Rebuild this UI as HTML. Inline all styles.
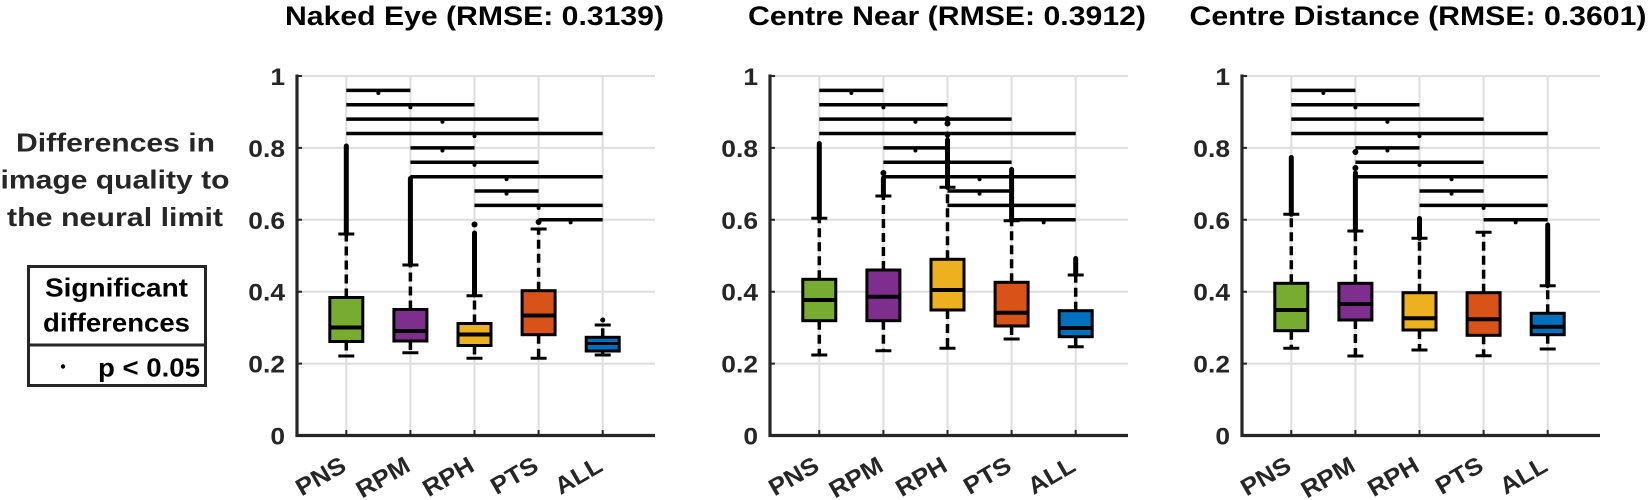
<!DOCTYPE html>
<html>
<head>
<meta charset="utf-8">
<style>
  html,body{margin:0;padding:0;background:#fff;}
  svg{display:block;}
  text{font-family:"Liberation Sans",Arial,sans-serif;font-weight:bold;}
  .g{stroke:#dedede;stroke-width:2;fill:none;}
  .ax{stroke:#262626;stroke-width:3.2;fill:none;}
  .tk{stroke:#262626;stroke-width:2;fill:none;}
  .bar{stroke:#000;stroke-width:3.5;fill:none;}
  .w{stroke:#000;stroke-width:3.5;stroke-dasharray:9 5;fill:none;}
  .c{stroke:#000;stroke-width:3;fill:none;}
  .o{stroke:#000;stroke-width:5;stroke-linecap:round;fill:none;}
  .m{stroke:#000;stroke-width:4;fill:none;}
  .bx{stroke:#000;stroke-width:3;}
  .yt{font-size:24px;fill:#262626;}
  .xt{font-size:24px;fill:#262626;}
  .ti{font-size:27px;fill:#000;}
</style>
</head>
<body>
<svg width="1650" height="500" viewBox="0 0 1650 500" xmlns="http://www.w3.org/2000/svg">
<defs>
  <g id="frame">
    <!-- grid -->
    <path class="g" d="M0,76H358M0,147.9H358M0,219.8H358M0,291.7H358M0,363.6H358"/>
    <path class="g" d="M49.3,76V435M113.4,76V435M177.5,76V435M241.6,76V435M305.7,76V435"/>
    <!-- axes -->
    <path class="ax" d="M0,74.5V435.5H358"/>
    <path class="tk" d="M0,76h5M0,147.9h5M0,219.8h5M0,291.7h5M0,363.6h5"/>
    <path class="tk" d="M49.3,435v-5M113.4,435v-5M177.5,435v-5M241.6,435v-5M305.7,435v-5"/>
    <!-- significance bars -->
    <path class="bar" d="M49.3,90.4H113.4M49.3,104.8H177.5M49.3,119.1H241.6M49.3,133.5H305.7M113.4,147.9H177.5M113.4,162.3H241.6M113.4,176.7H305.7M177.5,191H241.6M177.5,205.4H305.7M241.6,219.8H305.7"/>
    <g fill="#000">
      <circle cx="81.35" cy="93" r="2"/>
      <circle cx="113.4" cy="107.4" r="2"/>
      <circle cx="145.45" cy="121.7" r="2"/>
      <circle cx="177.5" cy="136.1" r="2"/>
      <circle cx="145.45" cy="150.5" r="2"/>
      <circle cx="177.5" cy="164.9" r="2"/>
      <circle cx="209.55" cy="179.3" r="2"/>
      <circle cx="209.55" cy="193.6" r="2"/>
      <circle cx="241.6" cy="208" r="2"/>
      <circle cx="273.65" cy="222.4" r="2"/>
    </g>
    <!-- y tick labels -->
    <g transform="translate(-12,0) scale(1.1,1)">
      <text class="yt" x="0" y="85" text-anchor="end">1</text>
      <text class="yt" x="0" y="156.9" text-anchor="end">0.8</text>
      <text class="yt" x="0" y="228.8" text-anchor="end">0.6</text>
      <text class="yt" x="0" y="300.7" text-anchor="end">0.4</text>
      <text class="yt" x="0" y="372.6" text-anchor="end">0.2</text>
      <text class="yt" x="0" y="444.5" text-anchor="end">0</text>
    </g>
    <!-- x tick labels -->
    <text class="xt" text-anchor="end" transform="translate(50.8,470) rotate(-30) scale(1.08,1)">PNS</text>
    <text class="xt" text-anchor="end" transform="translate(114.9,470) rotate(-30) scale(1.08,1)">RPM</text>
    <text class="xt" text-anchor="end" transform="translate(179,470) rotate(-30) scale(1.08,1)">RPH</text>
    <text class="xt" text-anchor="end" transform="translate(243.1,470) rotate(-30) scale(1.08,1)">PTS</text>
    <text class="xt" text-anchor="end" transform="translate(307.2,470) rotate(-30) scale(1.08,1)">ALL</text>
  </g>
</defs>

<!-- Titles -->
<text class="ti" x="474.5" y="25" text-anchor="middle" textLength="379" lengthAdjust="spacingAndGlyphs">Naked Eye (RMSE: 0.3139)</text>
<text class="ti" x="947" y="25" text-anchor="middle" textLength="398" lengthAdjust="spacingAndGlyphs">Centre Near (RMSE: 0.3912)</text>
<text class="ti" x="1418" y="25" text-anchor="middle" textLength="457" lengthAdjust="spacingAndGlyphs">Centre Distance (RMSE: 0.3601)</text>

<!-- Y label -->
<text x="115.5" y="151.7" text-anchor="middle" font-size="26" fill="#262626" textLength="199" lengthAdjust="spacingAndGlyphs">Differences in</text>
<text x="115" y="188.5" text-anchor="middle" font-size="26" fill="#262626" textLength="229" lengthAdjust="spacingAndGlyphs">image quality to</text>
<text x="115" y="226" text-anchor="middle" font-size="26" fill="#262626" textLength="216" lengthAdjust="spacingAndGlyphs">the neural limit</text>

<!-- Legend -->
<rect x="28.5" y="266.5" width="177" height="119" fill="#fff" stroke="#262626" stroke-width="3"/>
<line x1="28.5" y1="345" x2="205.5" y2="345" stroke="#262626" stroke-width="3"/>
<text x="116.5" y="296.5" text-anchor="middle" font-size="26" fill="#000" textLength="143" lengthAdjust="spacingAndGlyphs">Significant</text>
<text x="116.5" y="331.5" text-anchor="middle" font-size="26" fill="#000" textLength="147" lengthAdjust="spacingAndGlyphs">differences</text>
<circle cx="63" cy="366.5" r="2.2" fill="#000"/>
<text x="98" y="376.5" font-size="26" fill="#000" textLength="102" lengthAdjust="spacingAndGlyphs">p &lt; 0.05</text>

<!-- Panel 1 -->
<g transform="translate(297,0)">
  <use href="#frame"/>
  <!-- PNS -->
  <path class="o" d="M49.3,234V146"/>
  <path class="w" d="M49.3,297.5V234M49.3,341.5V356"/>
  <path class="c" d="M41.3,234h16M41.3,356h16"/>
  <rect class="bx" x="32.8" y="297.5" width="33" height="44" fill="#77ac30"/>
  <path class="m" d="M32.8,327.5h33"/>
  <!-- RPM -->
  <path class="o" d="M113.4,265V178.5"/>
  <path class="w" d="M113.4,309.5V265M113.4,341V352.7"/>
  <path class="c" d="M105.4,265h16M105.4,352.7h16"/>
  <rect class="bx" x="96.9" y="309.5" width="33" height="31.5" fill="#7e2f8e"/>
  <path class="m" d="M96.9,331h33"/>
  <!-- RPH -->
  <path class="o" d="M177.5,295V233"/>
  <circle cx="177.5" cy="224.5" r="3" fill="#000"/>
  <path class="w" d="M177.5,323.5V295.7M177.5,345.5V358.3"/>
  <path class="c" d="M169.5,295.7h16M169.5,358.3h16"/>
  <rect class="bx" x="161" y="323.5" width="33" height="22" fill="#edb120"/>
  <path class="m" d="M161,334.5h33"/>
  <!-- PTS -->
  <circle cx="241.6" cy="222" r="3" fill="#000"/>
  <path class="w" d="M241.6,290.7V229M241.6,334.7V358.3"/>
  <path class="c" d="M233.6,229h16M233.6,358.3h16"/>
  <rect class="bx" x="225.1" y="290.7" width="33" height="44" fill="#d95319"/>
  <path class="m" d="M225.1,315.5h33"/>
  <!-- ALL -->
  <circle cx="305.7" cy="320" r="2.5" fill="#000"/>
  <path class="w" d="M305.7,337.3V325M305.7,351V355"/>
  <path class="c" d="M297.7,325h16M297.7,355h16"/>
  <rect class="bx" x="289.2" y="337.3" width="33" height="13.7" fill="#0072bd"/>
  <path class="m" d="M289.2,343.5h33" style="stroke-width:3"/>
</g>

<!-- Panel 2 -->
<g transform="translate(770,0)">
  <use href="#frame"/>
  <!-- PNS -->
  <path class="o" d="M49.3,218.3V143.5"/>
  <path class="w" d="M49.3,279.3V218.3M49.3,320.7V355"/>
  <path class="c" d="M41.3,218.3h16M41.3,355h16"/>
  <rect class="bx" x="32.8" y="279.3" width="33" height="41.4" fill="#77ac30"/>
  <path class="m" d="M32.8,300h33"/>
  <!-- RPM -->
  <path class="o" d="M113.4,196V178"/>
  <circle cx="113.4" cy="173" r="3" fill="#000"/>
  <path class="w" d="M113.4,270V196M113.4,320.7V350.7"/>
  <path class="c" d="M105.4,196h16M105.4,350.7h16"/>
  <rect class="bx" x="96.9" y="270" width="33" height="50.7" fill="#7e2f8e"/>
  <path class="m" d="M96.9,296.7h33"/>
  <!-- RPH -->
  <path class="o" d="M177.5,187.3V140"/>
  <circle cx="177.5" cy="134.5" r="3" fill="#000"/>
  <circle cx="177.5" cy="123.5" r="3" fill="#000"/>
  <circle cx="177.5" cy="119" r="3" fill="#000"/>
  <path class="w" d="M177.5,259.3V187.3M177.5,310V348.3"/>
  <path class="c" d="M169.5,187.3h16M169.5,348.3h16"/>
  <rect class="bx" x="161" y="259.3" width="33" height="50.7" fill="#edb120"/>
  <path class="m" d="M161,290h33"/>
  <!-- PTS -->
  <path class="o" d="M241.6,220.7V169.5"/>
  <path class="w" d="M241.6,282.3V220.7M241.6,326V339"/>
  <path class="c" d="M233.6,220.7h16M233.6,339h16"/>
  <rect class="bx" x="225.1" y="282.3" width="33" height="43.7" fill="#d95319"/>
  <path class="m" d="M225.1,312.7h33"/>
  <!-- ALL -->
  <path class="o" d="M305.7,275V258.5"/>
  <path class="w" d="M305.7,310.7V275M305.7,336.7V346.7"/>
  <path class="c" d="M297.7,275h16M297.7,346.7h16"/>
  <rect class="bx" x="289.2" y="310.7" width="33" height="26" fill="#0072bd"/>
  <path class="m" d="M289.2,328h33"/>
</g>

<!-- Panel 3 -->
<g transform="translate(1242,0)">
  <use href="#frame"/>
  <!-- PNS -->
  <path class="o" d="M49.3,214.3V157.5"/>
  <path class="w" d="M49.3,283.3V214.3M49.3,330.7V348.3"/>
  <path class="c" d="M41.3,214.3h16M41.3,348.3h16"/>
  <rect class="bx" x="32.8" y="283.3" width="33" height="47.4" fill="#77ac30"/>
  <path class="m" d="M32.8,310h33"/>
  <!-- RPM -->
  <path class="o" d="M113.4,231V173"/>
  <circle cx="113.4" cy="168" r="3" fill="#000"/>
  <circle cx="113.4" cy="152" r="3" fill="#000"/>
  <path class="w" d="M113.4,283.3V231M113.4,320V356"/>
  <path class="c" d="M105.4,231h16M105.4,356h16"/>
  <rect class="bx" x="96.9" y="283.3" width="33" height="36.7" fill="#7e2f8e"/>
  <path class="m" d="M96.9,304h33"/>
  <!-- RPH -->
  <path class="o" d="M177.5,238.3V218.5"/>
  <path class="w" d="M177.5,292.7V238.3M177.5,330V350"/>
  <path class="c" d="M169.5,238.3h16M169.5,350h16"/>
  <rect class="bx" x="161" y="292.7" width="33" height="37.3" fill="#edb120"/>
  <path class="m" d="M161,318.3h33"/>
  <!-- PTS -->
  <path class="w" d="M241.6,292.7V232.3M241.6,335.3V355.7"/>
  <path class="c" d="M233.6,232.3h16M233.6,355.7h16"/>
  <rect class="bx" x="225.1" y="292.7" width="33" height="42.6" fill="#d95319"/>
  <path class="m" d="M225.1,319.3h33"/>
  <!-- ALL -->
  <path class="o" d="M305.7,285.7V225"/>
  <path class="w" d="M305.7,313.3V285.7M305.7,334.7V349"/>
  <path class="c" d="M297.7,285.7h16M297.7,349h16"/>
  <rect class="bx" x="289.2" y="313.3" width="33" height="21.4" fill="#0072bd"/>
  <path class="m" d="M289.2,326.7h33"/>
</g>
</svg>
</body>
</html>
